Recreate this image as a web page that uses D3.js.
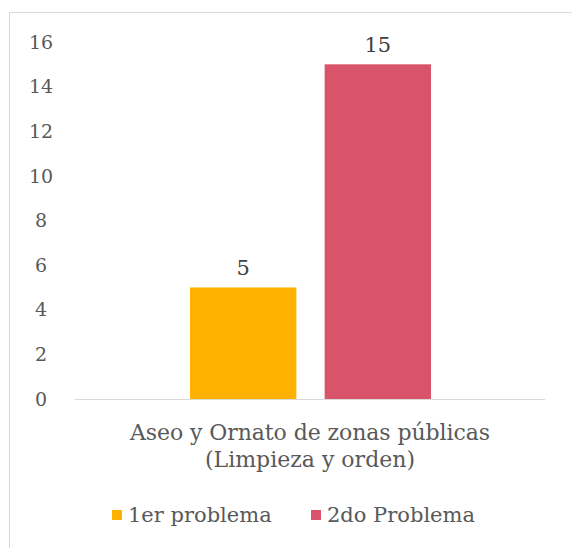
<!doctype html>
<html>
<head>
<script src="https://d3js.org/d3.v7.min.js"></script>
<style>
body { margin: 0; background: #fff; }
text { font-family: Georgia, "DejaVu Serif", "Liberation Serif", serif; fill: #595959; }
</style>
</head>
<body>
<script type="text/javascript">
var width = 572;
var height = 548;

// data
var category = ["Aseo y Ornato de zonas públicas", "(Limpieza y orden)"];
var series = ["1er problema", "2do Problema"];
var values = [5, 15];
var colors = ["#FFB300", "#D9536B"];
var yTicks = [0, 2, 4, 6, 8, 10, 12, 14, 16];

var svg = d3.select("body").append("svg")
    .attr("width", width)
    .attr("height", height);

// chart border (only top and left visible)
svg.append("path")
    .attr("d", "M9.5," + height + "V12.5H" + width)
    .attr("fill", "none")
    .attr("stroke", "#d9d9d9");

var y = d3.scaleLinear().domain([0, 16]).range([399, 42]);
var x = d3.scaleBand().domain(series).range([190, 431]).paddingInner(0.21);

// y tick labels
svg.append("g").selectAll("text")
    .data(yTicks)
    .enter()
    .append("text")
    .attr("x", 41)
    .attr("y", function (d) { return y(d); })
    .attr("dy", "0.35em")
    .attr("text-anchor", "middle")
    .attr("font-size", 19)
    .text(function (d) { return d; });

// bars
svg.append("g").selectAll("rect")
    .data(values)
    .enter()
    .append("rect")
    .attr("x", function (d, i) { return x(series[i]); })
    .attr("y", function (d) { return y(d); })
    .attr("width", x.bandwidth())
    .attr("height", function (d) { return y(0) - y(d); })
    .attr("fill", function (d, i) { return colors[i]; });

// value labels
svg.append("g").selectAll("text")
    .data(values)
    .enter()
    .append("text")
    .attr("x", function (d, i) { return x(series[i]) + x.bandwidth() / 2; })
    .attr("y", function (d) { return y(d) - 12; })
    .attr("text-anchor", "middle")
    .attr("font-size", 21)
    .style("fill", "#404040")
    .text(function (d) { return d; });

// x axis line
svg.append("line")
    .attr("x1", 75).attr("x2", 545)
    .attr("y1", y(0) + 0.5).attr("y2", y(0) + 0.5)
    .attr("stroke", "#d9d9d9");

// category label
svg.append("g").selectAll("text")
    .data(category)
    .enter()
    .append("text")
    .attr("x", 310)
    .attr("y", function (d, i) { return 440 + i * 27; })
    .attr("text-anchor", "middle")
    .attr("font-size", 22)
    .attr("textLength", function (d, i) { return i == 0 ? 360 : null; })
    .text(function (d) { return d; });

// legend
var legendX = [112, 311];
var legend = svg.append("g").selectAll("g")
    .data(series)
    .enter()
    .append("g")
    .attr("transform", function (d, i) { return "translate(" + legendX[i] + ",515)"; });

legend.append("rect")
    .attr("x", 0).attr("y", -5)
    .attr("width", 10).attr("height", 10)
    .attr("fill", function (d, i) { return colors[i]; });

legend.append("text")
    .attr("x", 16)
    .attr("dy", "0.35em")
    .attr("font-size", 21)
    .text(function (d) { return d; });
</script>
</body>
</html>
